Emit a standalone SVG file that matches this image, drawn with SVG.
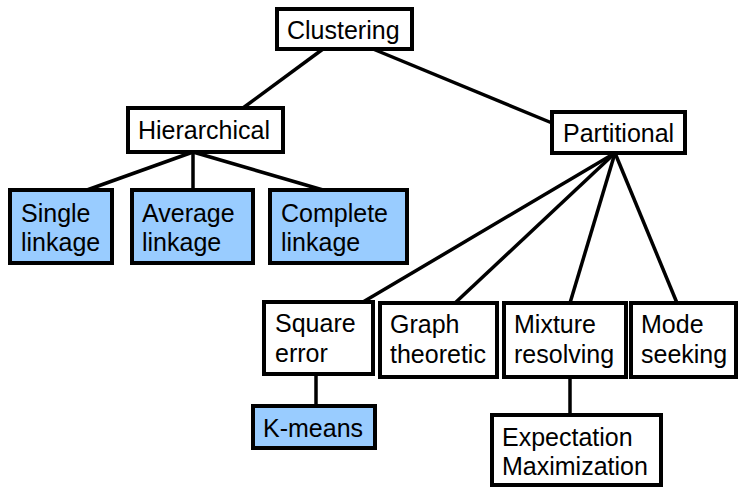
<svg xmlns="http://www.w3.org/2000/svg" width="738" height="487" viewBox="0 0 738 487">
  <style>
    .box { fill: #ffffff; stroke: #000000; stroke-width: 4; }
    .leaf { fill: #99ccff; stroke: #000000; stroke-width: 4; }
    .edge { stroke: #000000; stroke-width: 3.5; fill: none; stroke-linecap: butt; }
    text { font-family: "Liberation Sans", Arial, sans-serif; font-size: 25px; fill: #000000; }
  </style>
  <rect width="738" height="487" fill="#ffffff"/>

  <!-- connectors -->
  <g id="connectors">
    <line class="edge" x1="323" y1="49" x2="243" y2="108"/>
    <line class="edge" x1="373" y1="49" x2="552" y2="123"/>
    <line class="edge" x1="193" y1="152" x2="87" y2="190"/>
    <line class="edge" x1="193" y1="152" x2="193" y2="190"/>
    <line class="edge" x1="193" y1="152" x2="323" y2="190"/>
    <line class="edge" x1="615" y1="153" x2="363" y2="302"/>
    <line class="edge" x1="615" y1="153" x2="455" y2="303"/>
    <line class="edge" x1="615" y1="153" x2="570" y2="303"/>
    <line class="edge" x1="615" y1="153" x2="677" y2="303"/>
    <line class="edge" x1="316" y1="374" x2="316" y2="406"/>
    <line class="edge" x1="570" y1="377" x2="570" y2="415"/>
  </g>

  <g id="clustering">
    <rect class="box" x="277" y="9" width="135" height="40"/>
    <text x="287" y="39">Clustering</text>
  </g>

  <g id="hierarchical">
    <rect class="box" x="128" y="108" width="155" height="44"/>
    <text x="138" y="139">Hierarchical</text>
  </g>

  <g id="partitional">
    <rect class="box" x="552" y="112" width="133" height="41"/>
    <text x="563" y="142">Partitional</text>
  </g>

  <g id="single-linkage">
    <rect class="leaf" x="10" y="190" width="102" height="73"/>
    <text x="21" y="222">Single</text>
    <text x="21" y="251">linkage</text>
  </g>

  <g id="average-linkage">
    <rect class="leaf" x="132" y="190" width="121" height="73"/>
    <text x="142" y="222">Average</text>
    <text x="142" y="251">linkage</text>
  </g>

  <g id="complete-linkage">
    <rect class="leaf" x="270" y="190" width="137" height="73"/>
    <text x="281" y="222">Complete</text>
    <text x="281" y="251">linkage</text>
  </g>

  <g id="square-error">
    <rect class="box" x="264" y="302" width="109" height="72"/>
    <text x="275" y="332">Square</text>
    <text x="275" y="362">error</text>
  </g>

  <g id="graph-theoretic">
    <rect class="box" x="380" y="303" width="117" height="74"/>
    <text x="390" y="333">Graph</text>
    <text x="390" y="363">theoretic</text>
  </g>

  <g id="mixture-resolving">
    <rect class="box" x="504" y="303" width="122" height="74"/>
    <text x="514" y="333">Mixture</text>
    <text x="514" y="363">resolving</text>
  </g>

  <g id="mode-seeking">
    <rect class="box" x="631" y="303" width="105" height="74"/>
    <text x="641" y="333">Mode</text>
    <text x="641" y="363">seeking</text>
  </g>

  <g id="k-means">
    <rect class="leaf" x="253" y="406" width="122" height="42"/>
    <text x="263" y="437">K-means</text>
  </g>

  <g id="expectation-maximization">
    <rect class="box" x="492" y="415" width="169" height="70"/>
    <text x="502" y="446">Expectation</text>
    <text x="502" y="475">Maximization</text>
  </g>
</svg>
